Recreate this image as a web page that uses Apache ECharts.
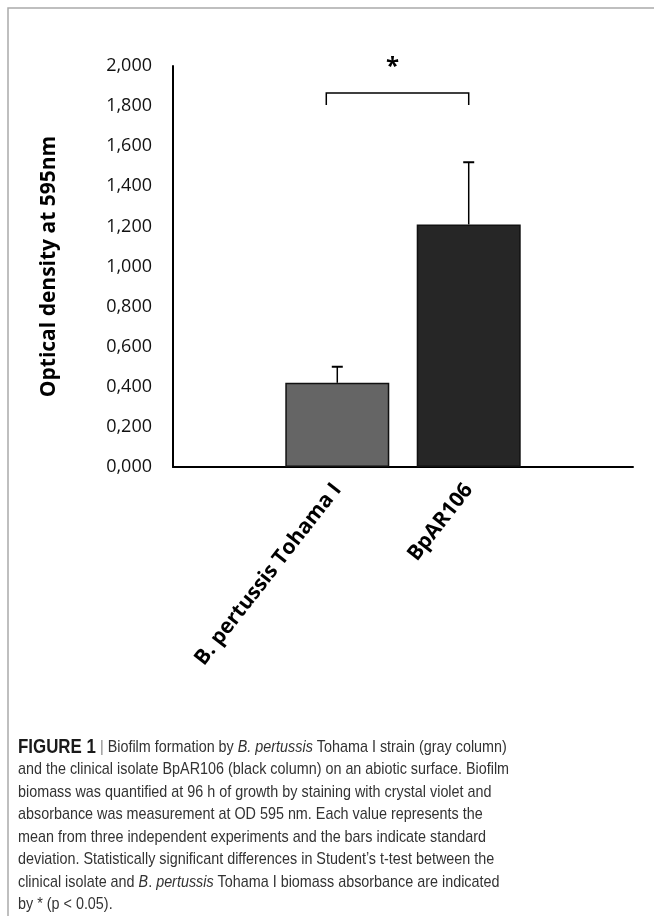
<!DOCTYPE html>
<html>
<head>
<meta charset="utf-8">
<script src="https://cdn.jsdelivr.net/npm/echarts@6/dist/echarts.min.js"></script>
<style>
  html, body { margin: 0; padding: 0; background: #ffffff; }
  #chart { width: 654px; height: 916px; }
</style>
</head>
<body>
<div id="chart"></div>
<script>
// ---- data ----
const categories = ['B. pertussis Tohama I', 'BpAR106'];
const means = [0.42, 1.21];
const sds = [0.08, 0.31];
const barColors = ['#656565', '#262626'];
const yMin = 0;
const yMax = 2;
const yInterval = 0.2;
const yAxisTitle = 'Optical density at 595nm';
const sigMark = '*';
const sigBracketValue = 1.865;
const sigLegValue = 1.805;
const sigStarValue = 2.015;
const captionLines = [
  [['b', 'FIGURE 1'], ['sep', ' | '], ['n', 'Biofilm formation by '], ['i', 'B. pertussis'], ['n', ' Tohama I strain (gray column)']],
  [['n', 'and the clinical isolate BpAR106 (black column) on an abiotic surface. Biofilm']],
  [['n', 'biomass was quantified at 96 h of growth by staining with crystal violet and']],
  [['n', 'absorbance was measurement at OD 595 nm. Each value represents the']],
  [['n', 'mean from three independent experiments and the bars indicate standard']],
  [['n', 'deviation. Statistically significant differences in Student\u2019s t-test between the']],
  [['n', 'clinical isolate and '], ['i', 'B'], ['n', '. '], ['i', 'pertussis'], ['n', ' Tohama I biomass absorbance are indicated']],
  [['n', 'by * (p < 0.05).']]
];

// ---- layout helpers ----
const slotCount = 7;
const slots = [2, 4];
const axisData = [];
for (let i = 0; i < slotCount; i++) {
  const k = slots.indexOf(i);
  axisData.push(k >= 0 ? categories[k] : '');
}
const barData = [];
for (let i = 0; i < slotCount; i++) {
  const k = slots.indexOf(i);
  barData.push(k >= 0 ? { value: means[k], itemStyle: { color: barColors[k] } } : '-');
}
const errData = means.map((m, k) => [slots[k], m, m + sds[k]]);

const chartFont = "'Open Sans', 'Noto Sans', sans-serif";
const capFont = "'Liberation Sans', Arial, sans-serif";

const capRich = {
  b: { fontFamily: capFont, fontSize: 20, fontWeight: 'bold', fill: '#1a1a1a' },
  sep: { fontFamily: capFont, fontSize: 17, fill: '#888888' },
  n: { fontFamily: capFont, fontSize: 17, fill: '#333333' },
  i: { fontFamily: capFont, fontSize: 17, fontStyle: 'italic', fill: '#333333' }
};
const captionGraphics = captionLines.map((segs, li) => ({
  type: 'text',
  x: 18,
  y: 747 + li * 22.5,
  scaleX: 0.845,
  scaleY: 1,
  silent: true,
  style: {
    text: segs.map(s => '{' + s[0] + '|' + s[1] + '}').join(''),
    rich: capRich,
    verticalAlign: 'middle',
    align: 'left'
  }
}));

const chart = echarts.init(document.getElementById('chart'), null, { renderer: 'canvas' });
chart.setOption({
  animation: false,
  backgroundColor: '#ffffff',
  grid: { left: 173, top: 66, right: 21, bottom: 449, containLabel: false },
  xAxis: {
    type: 'category',
    data: axisData,
    axisLine: { show: true, lineStyle: { color: '#000', width: 2 } },
    axisTick: { show: false },
    axisLabel: {
      interval: 0,
      rotate: 52,
      margin: 19,
      fontFamily: chartFont,
      fontSize: 21,
      fontWeight: 'bold',
      color: '#000'
    },
    splitLine: { show: false }
  },
  yAxis: {
    type: 'value',
    min: yMin,
    max: yMax,
    interval: yInterval,
    name: yAxisTitle,
    nameLocation: 'middle',
    nameGap: 113,
    nameTextStyle: { fontFamily: chartFont, fontSize: 21, fontWeight: 'bold', color: '#000' },
    axisLine: { show: true, lineStyle: { color: '#000', width: 2 } },
    axisTick: { show: false },
    splitLine: { show: false },
    axisLabel: {
      margin: 21,
      fontFamily: chartFont,
      fontSize: 18,
      color: '#111',
      formatter: v => v.toFixed(3).replace('.', ',')
    }
  },
  series: [
    {
      type: 'bar',
      data: barData,
      barWidth: 104,
      itemStyle: { borderColor: '#111', borderWidth: 1.5 },
      z: 2
    },
    {
      type: 'custom',
      data: errData,
      encode: { x: 0, y: [1, 2] },
      z: 3,
      renderItem: function (params, api) {
        const base = api.coord([api.value(0), api.value(1)]);
        const top = api.coord([api.value(0), api.value(2)]);
        const cap = 5.5;
        return {
          type: 'group',
          children: [
            { type: 'line', shape: { x1: base[0], y1: base[1], x2: top[0], y2: top[1] }, style: { stroke: '#000', lineWidth: 1.5 } },
            { type: 'line', shape: { x1: top[0] - cap, y1: top[1], x2: top[0] + cap, y2: top[1] }, style: { stroke: '#000', lineWidth: 2 } }
          ]
        };
      }
    },
    {
      type: 'custom',
      data: [[slots[0], sigBracketValue]],
      encode: { x: 0, y: 1 },
      clip: false,
      z: 3,
      renderItem: function (params, api) {
        const left = api.coord([slots[0], sigBracketValue]);
        const right = api.coord([slots[1], sigBracketValue]);
        const leg = api.coord([slots[1], sigLegValue]);
        const star = api.coord([slots[0], sigStarValue]);
        const lx = left[0] - 11;
        const rx = right[0];
        return {
          type: 'group',
          children: [
            { type: 'polyline', shape: { points: [[lx, leg[1]], [lx, left[1]], [rx, left[1]], [rx, leg[1]]] }, style: { stroke: '#000', lineWidth: 1.5, fill: null } },
            { type: 'text', style: { text: sigMark, x: (lx + rx) / 2 - 5, y: star[1] + 4, align: 'center', verticalAlign: 'middle', fontFamily: chartFont, fontSize: 24, fontWeight: 'bold', fill: '#000' } }
          ]
        };
      }
    }
  ],
  graphic: [
    { type: 'rect', shape: { x: 8, y: 8, width: 800, height: 1000 }, style: { fill: null, stroke: '#aaaaaa', lineWidth: 1.5 }, silent: true }
  ].concat(captionGraphics)
});
</script>
</body>
</html>
